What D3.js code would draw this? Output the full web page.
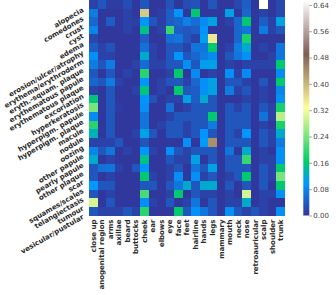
<!DOCTYPE html>
<html>
<head>
<meta charset="utf-8">
<script src="https://cdn.jsdelivr.net/npm/d3@7"></script>
<style>
  body { margin: 0; background: #fff; }
  text { font-family: "DejaVu Sans", sans-serif; }
</style>
</head>
<body>
<div id="chart"></div>
<script>
// row / column labels
const symptoms = ["alopecia", "comedones", "crust", "cyst", "edema", "erosion/ulcer/atrophy",
  "erythema/erythroderm", "eryth.-squam. plaque", "erythematous papule", "erythematous plaque",
  "excoriation", "hyperkeratosis", "hyperpigm. papule", "hyperpigm. plaque", "macule", "nodule",
  "oozing", "other papule", "pearly papule", "other plaque", "scar", "squames/scales",
  "telangiectasis", "tumour", "vesicular/pustular"];

const locations = ["close up", "anogenital region", "arms", "axillae", "beard", "buttocks", "cheek",
  "ear", "elbows", "eye", "face", "feet", "hairline", "hands", "legs", "mammary", "mouth", "neck",
  "nose", "retroauricular", "scalp", "shoulder", "trunk"];

// one row per symptom, one value per location
const values = [
  [0.015, 0.035, 0.01, 0.01, 0.025, 0.005, 0.035, 0.005, 0.005, 0.03, 0.005, 0.025, 0.03, 0.005, 0.035, 0.005, 0.005, 0.02, 0.04, 0.005, 0.66, 0.005, 0.02],
  [0.07, 0.005, 0.005, 0.005, 0.015, 0.005, 0.38, 0.005, 0.012, 0.04, 0.095, 0.005, 0.16, 0.005, 0.005, 0.005, 0.11, 0.005, 0.05, 0.005, 0.015, 0.005, 0.02],
  [0.05, 0.005, 0.04, 0.005, 0.015, 0.012, 0.095, 0.035, 0.012, 0.04, 0.05, 0.075, 0.055, 0.085, 0.11, 0.005, 0.015, 0.05, 0.16, 0.005, 0.04, 0.015, 0.11],
  [0.08, 0.005, 0.005, 0.005, 0.015, 0.005, 0.15, 0.005, 0.015, 0.2, 0.04, 0.035, 0.04, 0.095, 0.005, 0.005, 0.005, 0.05, 0.065, 0.005, 0.07, 0.015, 0.035],
  [0.02, 0.005, 0.005, 0.005, 0.005, 0.005, 0.04, 0.005, 0.005, 0.055, 0.065, 0.035, 0.015, 0.105, 0.35, 0.005, 0.005, 0.05, 0.18, 0.005, 0.005, 0.005, 0.005],
  [0.04, 0.015, 0.03, 0.005, 0.005, 0.005, 0.06, 0.015, 0.005, 0.035, 0.035, 0.015, 0.065, 0.065, 0.16, 0.005, 0.015, 0.07, 0.12, 0.005, 0.015, 0.005, 0.065],
  [0.09, 0.015, 0.015, 0.005, 0.005, 0.005, 0.12, 0.015, 0.005, 0.035, 0.095, 0.035, 0.05, 0.07, 0.085, 0.005, 0.035, 0.065, 0.09, 0.005, 0.005, 0.015, 0.065],
  [0.07, 0.035, 0.07, 0.005, 0.005, 0.015, 0.055, 0.015, 0.015, 0.035, 0.035, 0.09, 0.035, 0.105, 0.11, 0.005, 0.015, 0.005, 0.015, 0.015, 0.015, 0.015, 0.16],
  [0.035, 0.005, 0.035, 0.005, 0.015, 0.005, 0.19, 0.005, 0.005, 0.015, 0.16, 0.005, 0.085, 0.005, 0.015, 0.005, 0.09, 0.015, 0.085, 0.005, 0.005, 0.005, 0.085],
  [0.05, 0.035, 0.07, 0.015, 0.005, 0.005, 0.095, 0.005, 0.015, 0.035, 0.035, 0.015, 0.05, 0.09, 0.11, 0.005, 0.035, 0.035, 0.015, 0.005, 0.035, 0.005, 0.16],
  [0.015, 0.005, 0.035, 0.005, 0.005, 0.015, 0.155, 0.005, 0.015, 0.005, 0.16, 0.035, 0.04, 0.09, 0.11, 0.005, 0.07, 0.015, 0.035, 0.005, 0.015, 0.005, 0.08],
  [0.155, 0.005, 0.035, 0.005, 0.005, 0.005, 0.095, 0.03, 0.005, 0.015, 0.015, 0.11, 0.04, 0.12, 0.035, 0.005, 0.005, 0.005, 0.015, 0.005, 0.015, 0.005, 0.09],
  [0.24, 0.005, 0.035, 0.01, 0.005, 0.005, 0.09, 0.005, 0.005, 0.06, 0.005, 0.015, 0.035, 0.035, 0.035, 0.005, 0.035, 0.015, 0.035, 0.005, 0.035, 0.015, 0.18],
  [0.085, 0.005, 0.035, 0.005, 0.005, 0.005, 0.065, 0.005, 0.005, 0.015, 0.035, 0.035, 0.035, 0.035, 0.16, 0.005, 0.035, 0.035, 0.035, 0.005, 0.06, 0.015, 0.28],
  [0.19, 0.005, 0.035, 0.005, 0.005, 0.005, 0.065, 0.005, 0.015, 0.035, 0.035, 0.015, 0.035, 0.035, 0.07, 0.005, 0.035, 0.035, 0.035, 0.005, 0.015, 0.005, 0.18],
  [0.13, 0.005, 0.035, 0.005, 0.005, 0.015, 0.11, 0.035, 0.005, 0.035, 0.035, 0.015, 0.035, 0.095, 0.035, 0.005, 0.035, 0.015, 0.095, 0.005, 0.035, 0.015, 0.12],
  [0.015, 0.015, 0.015, 0.035, 0.005, 0.005, 0.035, 0.005, 0.005, 0.005, 0.005, 0.09, 0.005, 0.1, 0.44, 0.005, 0.035, 0.035, 0.035, 0.005, 0.035, 0.015, 0.07],
  [0.08, 0.035, 0.065, 0.005, 0.015, 0.005, 0.095, 0.015, 0.005, 0.09, 0.035, 0.015, 0.035, 0.035, 0.035, 0.005, 0.065, 0.005, 0.12, 0.005, 0.015, 0.005, 0.09],
  [0.12, 0.005, 0.015, 0.005, 0.005, 0.005, 0.15, 0.005, 0.005, 0.035, 0.015, 0.015, 0.11, 0.005, 0.035, 0.005, 0.035, 0.035, 0.2, 0.005, 0.015, 0.015, 0.09],
  [0.035, 0.06, 0.065, 0.015, 0.005, 0.035, 0.095, 0.005, 0.005, 0.015, 0.035, 0.005, 0.065, 0.035, 0.11, 0.005, 0.035, 0.035, 0.035, 0.005, 0.035, 0.015, 0.16],
  [0.035, 0.005, 0.015, 0.005, 0.005, 0.005, 0.16, 0.015, 0.005, 0.015, 0.09, 0.005, 0.09, 0.015, 0.035, 0.005, 0.015, 0.035, 0.16, 0.005, 0.035, 0.015, 0.24],
  [0.1, 0.035, 0.035, 0.005, 0.005, 0.005, 0.035, 0.035, 0.005, 0.035, 0.065, 0.12, 0.035, 0.12, 0.12, 0.005, 0.035, 0.005, 0.035, 0.005, 0.035, 0.005, 0.16],
  [0.035, 0.005, 0.015, 0.005, 0.005, 0.005, 0.21, 0.005, 0.005, 0.015, 0.16, 0.005, 0.035, 0.015, 0.015, 0.005, 0.015, 0.005, 0.3, 0.005, 0.015, 0.015, 0.09],
  [0.3, 0.005, 0.035, 0.005, 0.005, 0.005, 0.09, 0.015, 0.005, 0.035, 0.005, 0.015, 0.065, 0.005, 0.035, 0.005, 0.015, 0.015, 0.12, 0.005, 0.015, 0.005, 0.005],
  [0.035, 0.015, 0.015, 0.015, 0.035, 0.015, 0.19, 0.005, 0.005, 0.005, 0.16, 0.035, 0.09, 0.065, 0.035, 0.005, 0.09, 0.035, 0.015, 0.035, 0.015, 0.005, 0.09]
];

const colorTicks = [0.00, 0.08, 0.16, 0.24, 0.32, 0.40, 0.48, 0.56, 0.64];

const width = 336, height = 295;
const plotLeft = 89, plotTop = 0, plotW = 196, plotH = 215.5;
const vmax = 0.655;

// matplotlib "terrain" colormap
const terrainStops = [0, 0.15, 0.25, 0.5, 0.75, 1];
const terrainColors = ["#333399", "#0099ff", "#00cc66", "#ffff99", "#805c54", "#ffffff"];
const color = d3.scaleLinear()
  .domain(terrainStops.map(t => t * vmax))
  .range(terrainColors)
  .interpolate(d3.interpolateRgb)
  .clamp(true);

const x = d3.scaleBand().domain(locations).range([plotLeft, plotLeft + plotW]);
const y = d3.scaleBand().domain(symptoms).range([plotTop, plotTop + plotH]);

const svg = d3.select("#chart").append("svg")
  .attr("width", width)
  .attr("height", height);

const cells = [];
values.forEach((row, i) => {
  row.forEach((v, j) => {
    cells.push({s: symptoms[i], l: locations[j], v: v});
  });
});

svg.append("g")
  .selectAll("rect")
  .data(cells)
  .join("rect")
  .attr("x", d => x(d.l))
  .attr("y", d => y(d.s))
  .attr("width", x.bandwidth() + 0.3)
  .attr("height", y.bandwidth() + 0.3)
  .attr("fill", d => color(d.v))
  .attr("shape-rendering", "crispEdges");

// y labels, tilted
svg.append("g")
  .selectAll("text")
  .data(symptoms)
  .join("text")
  .attr("transform", d => "translate(" + (plotLeft - 6) + "," + (y(d) + y.bandwidth() / 2 + 5) + ") rotate(-30)")
  .attr("text-anchor", "end")
  .attr("dy", "0.35em")
  .attr("font-size", 7)
  .attr("font-weight", "bold")
  .attr("fill", "#2b2b2b")
  .text(d => d);

// x labels, vertical
svg.append("g")
  .selectAll("text")
  .data(locations)
  .join("text")
  .attr("transform", d => "translate(" + (x(d) + x.bandwidth() / 2) + "," + (plotTop + plotH + 4) + ") rotate(-90)")
  .attr("text-anchor", "end")
  .attr("dy", "0.35em")
  .attr("font-size", 7)
  .attr("font-weight", "bold")
  .attr("fill", "#2b2b2b")
  .text(d => d);

// colorbar
const cbX = 303.3, cbW = 6;
const cbScale = d3.scaleLinear().domain([0, vmax]).range([plotTop + plotH, plotTop]);

const defs = svg.append("defs");
const grad = defs.append("linearGradient")
  .attr("id", "cbgrad")
  .attr("x1", 0).attr("y1", 1).attr("x2", 0).attr("y2", 0);
terrainStops.forEach((t, i) => {
  grad.append("stop").attr("offset", t).attr("stop-color", terrainColors[i]);
});

svg.append("rect")
  .attr("x", cbX)
  .attr("y", plotTop)
  .attr("width", cbW)
  .attr("height", plotH)
  .attr("fill", "url(#cbgrad)");

const cbAxis = d3.axisRight(cbScale)
  .tickValues(colorTicks)
  .tickFormat(d3.format(".2f"))
  .tickSize(2.5)
  .tickPadding(1.5);

const cbG = svg.append("g")
  .attr("transform", "translate(" + (cbX + cbW) + ",0)")
  .call(cbAxis);
cbG.select(".domain").remove();
cbG.selectAll(".tick line").attr("stroke", "#555").attr("stroke-width", 0.6);
cbG.selectAll(".tick text")
  .attr("font-size", 7)
  .attr("font-family", "DejaVu Sans, sans-serif")
  .attr("fill", "#444");
</script>
</body>
</html>
